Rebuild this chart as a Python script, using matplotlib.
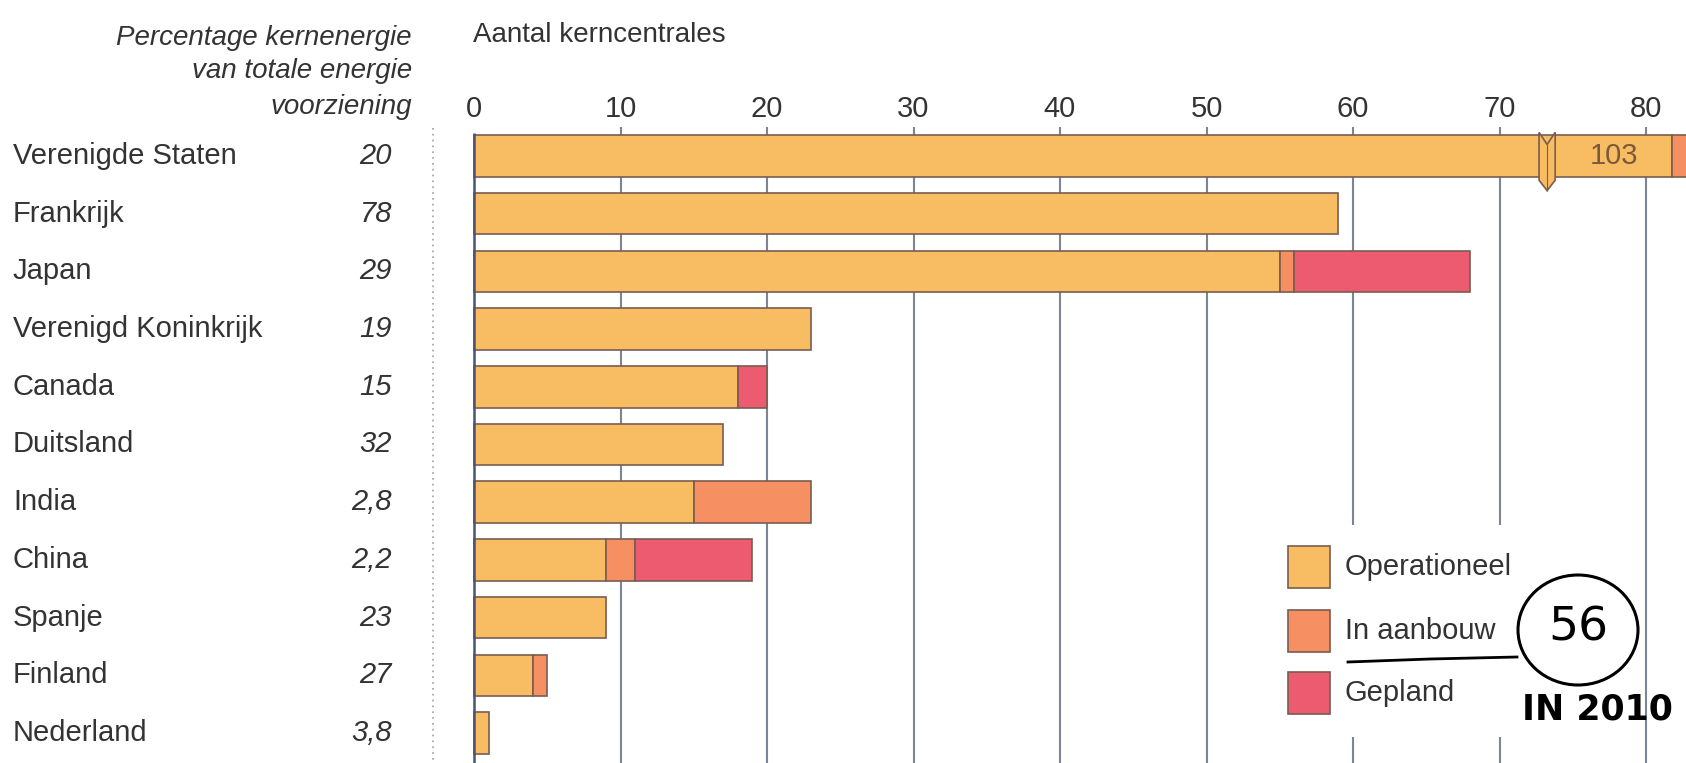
import matplotlib
matplotlib.use("Agg")
import matplotlib.pyplot as plt
from matplotlib.patches import Rectangle, Polygon, Ellipse

# -----------------------------
# data
# -----------------------------
countries = ["Verenigde Staten", "Frankrijk", "Japan", "Verenigd Koninkrijk", "Canada",
             "Duitsland", "India", "China", "Spanje", "Finland", "Nederland"]
share_pct = ["20", "78", "29", "19", "15", "32", "2,8", "2,2", "23", "27", "3,8"]
operational = [103, 59, 55, 23, 18, 17, 15, 9, 9, 4, 1]
building = [1, 0, 1, 0, 0, 0, 8, 2, 0, 1, 0]
planned = [0, 0, 12, 0, 2, 0, 0, 8, 0, 0, 0]
ticks = [0, 10, 20, 30, 40, 50, 60, 70, 80]
legend_labels = ["Operationeel", "In aanbouw", "Gepland"]

# the US bar is drawn with an axis break
break_at = 73.25
break_shift = 21.2

C_OP = "#f8bc62"
C_BUILD = "#f68f62"
C_PLAN = "#ec5b70"
EDGE = "#7a5c50"
TXT = "#333333"
GRID = "#7f8494"

W, H = 1686, 763
X0, PX = 474, 14.65      # pixel of value 0, pixels per unit
Y0, PY = 156, 57.7       # pixel of first row centre, pixels per row


def px2x(p):
    return (p - X0) / PX


def px2y(p):
    return (p - Y0) / PY


fig = plt.figure(figsize=(W / 100, H / 100), dpi=100)
ax = fig.add_axes([0, 0, 1, 1])
ax.set_xlim(px2x(0), px2x(W))
ax.set_ylim(px2y(H), px2y(0))
ax.axis("off")

plt.rcParams["font.family"] = ["Liberation Sans", "DejaVu Sans"]
FS = 21

# grid
for t in ticks[1:]:
    ax.vlines(t, px2y(127), px2y(H), color=GRID, lw=1.5, zorder=0)
    ax.text(t, px2y(109), str(t), ha="center", va="center", fontsize=FS, color=TXT)
ax.text(0, px2y(109), "0", ha="center", va="center", fontsize=FS, color=TXT)
ax.vlines(0, px2y(133), px2y(H), color="#4a5470", lw=1.8, zorder=3)
ax.vlines(px2x(433), px2y(128), px2y(H), color="#a0a0a0", lw=1.2, linestyles=(0, (1, 2.5)))

ax.text(px2x(473), px2y(35), "Aantal kerncentrales", ha="left", va="center",
        fontsize=FS - 1, color=TXT)
for line, yp in zip(["Percentage kernenergie", "van totale energie", "voorziening"],
                    [38, 71, 107]):
    ax.text(px2x(412), px2y(yp), line, ha="right", va="center", fontsize=FS - 1,
            style="italic", color=TXT)

# bars
bh = 0.72
for i, name in enumerate(countries):
    op, bu, pl = operational[i], building[i], planned[i]
    shift = break_shift if op > break_at else 0
    op_d = op - shift
    ax.barh(i, op_d, height=bh, color=C_OP, edgecolor=EDGE, lw=1.2, zorder=2)
    if bu:
        ax.barh(i, bu, left=op_d, height=bh, color=C_BUILD, edgecolor=EDGE, lw=1.2, zorder=2)
    if pl:
        ax.barh(i, pl, left=op_d + bu, height=bh, color=C_PLAN, edgecolor=EDGE, lw=1.2, zorder=2)
    if shift:
        x1, x2 = break_at - 0.55, break_at + 0.55
        ax.add_patch(Polygon([(x1, -0.41), (break_at, -0.20), (x2, -0.41),
                              (x2, 0.42), (break_at, 0.60), (x1, 0.42)],
                             closed=True, facecolor=C_OP, edgecolor=EDGE, lw=1.2, zorder=4))
        ax.vlines(break_at, -0.2, 0.6, color=EDGE, lw=0.8, zorder=5)
        ax.text((x2 + op_d) / 2, i, str(op), ha="center", va="center",
                fontsize=FS, color="#7a5a3a", zorder=5)
    ax.text(px2x(13), i, name, ha="left", va="center", fontsize=FS, color=TXT)
    ax.text(px2x(392), i, share_pct[i], ha="right", va="center", fontsize=FS,
            style="italic", color=TXT)

# legend
ax.add_patch(Rectangle((px2x(1275), px2y(525)), (1525 - 1275) / PX, (737 - 525) / PY,
                       facecolor="white", edgecolor="none", zorder=1))
for lab, col, yp in zip(legend_labels, [C_OP, C_BUILD, C_PLAN], [567, 631, 693]):
    ax.add_patch(Rectangle((px2x(1288), px2y(yp) - 0.37), 42 / PX, 0.74,
                           facecolor=col, edgecolor=EDGE, lw=1.2, zorder=3))
    ax.text(px2x(1345), px2y(yp), lab, ha="left", va="center", fontsize=FS,
            color=TXT, zorder=3)

# handwritten note
ax.plot([px2x(1348), px2x(1430), px2x(1517)], [px2y(662), px2y(659), px2y(657)],
        color="black", lw=2, zorder=6)
ax.add_patch(Ellipse((px2x(1578), px2y(630)), 120 / PX, 110 / PY, facecolor="none",
                     edgecolor="black", lw=2.2, zorder=6))
ax.text(px2x(1578), px2y(628), "56", ha="center", va="center", fontsize=34,
        color="black", family="DejaVu Sans", zorder=6)
ax.text(px2x(1597), px2y(710), "IN 2010", ha="center", va="center", fontsize=25,
        color="black", family="DejaVu Sans", weight="bold", zorder=6)

fig.savefig("out.png", dpi=100)
